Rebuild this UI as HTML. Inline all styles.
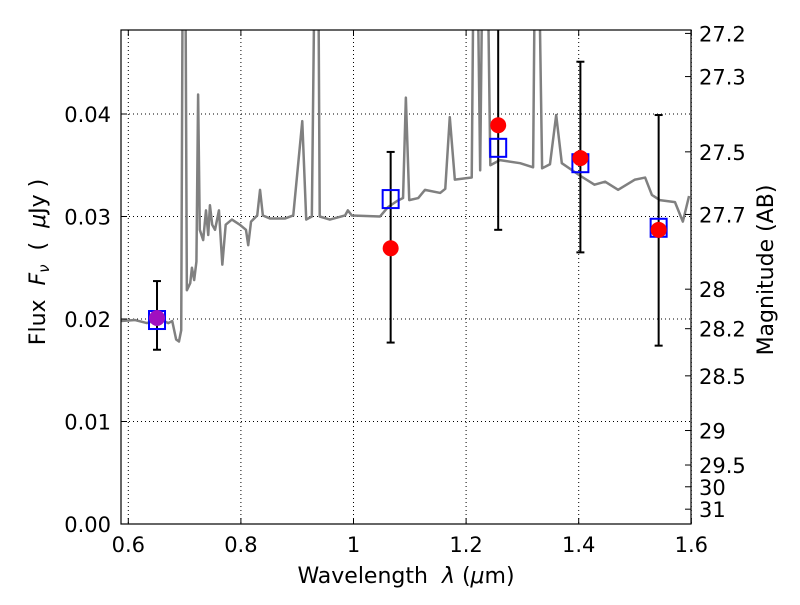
<!DOCTYPE html>
<html><head><meta charset="utf-8"><style>
body{margin:0;background:#fff;width:800px;height:600px;overflow:hidden}
svg text{font-family:"DejaVu Sans","Liberation Sans",sans-serif;fill:#000}
</style></head><body>
<svg id="c" width="800" height="600"></svg>
<script>
const specWave=[0.587,0.612,0.633,0.656,0.671,0.678,0.685,0.690,0.694,0.697,0.701,0.704,0.710,0.713,0.717,0.721,0.724,0.727,0.733,0.738,0.742,0.745,0.749,0.754,0.761,0.767,0.773,0.784,0.798,0.809,0.813,0.818,0.829,0.834,0.839,0.852,0.878,0.893,0.909,0.916,0.926,0.932,0.937,0.940,0.958,0.985,0.990,0.997,1.047,1.061,1.077,1.088,1.093,1.099,1.115,1.127,1.154,1.163,1.171,1.180,1.210,1.214,1.219,1.225,1.230,1.237,1.243,1.260,1.296,1.319,1.323,1.328,1.335,1.349,1.360,1.370,1.402,1.428,1.447,1.470,1.500,1.518,1.530,1.544,1.571,1.585,1.596];
const specFlux=[0.0198,0.0199,0.0196,0.0200,0.0196,0.0198,0.0180,0.0178,0.0189,0.06,0.06,0.0228,0.0235,0.0250,0.0238,0.0256,0.0419,0.0287,0.0277,0.0306,0.0282,0.0311,0.0292,0.0287,0.0306,0.0253,0.0292,0.0297,0.0292,0.0287,0.0272,0.0295,0.0301,0.0326,0.0301,0.0298,0.0298,0.0301,0.0393,0.0297,0.0300,0.06,0.06,0.0300,0.0297,0.0301,0.0306,0.0301,0.0300,0.0309,0.0315,0.0318,0.0416,0.0316,0.0318,0.0326,0.0323,0.0327,0.0397,0.0336,0.0338,0.06,0.06,0.0345,0.06,0.06,0.0350,0.0355,0.0352,0.0348,0.06,0.06,0.0347,0.0351,0.0399,0.0352,0.0340,0.0331,0.0334,0.0326,0.0336,0.0338,0.0321,0.0316,0.0314,0.0295,0.0320];
const bandWave=[0.651,1.066,1.257,1.403,1.542];
const modelFlux=[0.0199,0.0317,0.0367,0.0352,0.0289];
const obsFlux=[0.0201,0.0269,0.0389,0.0357,0.0287];
const errLo=[0.0170,0.0177,0.0287,0.0265,0.0174];
const errHi=[0.0237,0.0363,0.0600,0.0451,0.0399];
const xTicks=[0.6,0.8,1,1.2,1.4,1.6];
const xTickLabels=["0.6","0.8","1","1.2","1.4","1.6"];
const yTicks=[0,0.01,0.02,0.03,0.04];
const yTickLabels=["0.00","0.01","0.02","0.03","0.04"];
const magTicks=[27.2,27.3,27.5,27.7,28,28.2,28.5,29,29.5,30,31];

const L=121,R=691,T=30,B=524;
const X=v=>128.3+(v-0.6)*563;
const Y=f=>B-f*10250;
const M=m=>Y(Math.pow(10,(23.9-m)/2.5));
const NS="http://www.w3.org/2000/svg";
const svg=document.getElementById('c');
function mk(tag,at,parent){const e=document.createElementNS(NS,tag);for(const k in at)e.setAttribute(k,at[k]);(parent||svg).appendChild(e);return e;}
const defs=mk('defs',{});const cp=mk('clipPath',{id:'cl'},defs);mk('rect',{x:L,y:T,width:R-L,height:B-T},cp);

const grid=mk('g',{});


xTicks.forEach(v=>{mk('line',{x1:X(v),x2:X(v),y1:T,y2:B,stroke:'#000','stroke-width':1,'stroke-dasharray':'1,3'},grid);});
yTicks.forEach(v=>{mk('line',{x1:L,x2:R,y1:Y(v),y2:Y(v),stroke:'#000','stroke-width':1,'stroke-dasharray':'1,3'},grid);});

const spec=mk('polyline',{points:specWave.map((w,i)=>X(w)+','+Y(specFlux[i])).join(' '),fill:'none',stroke:'#808080','stroke-width':2.5,'stroke-linejoin':'round','clip-path':'url(#cl)'});



bandWave.forEach((w,i)=>{
 const g=mk('g',{'clip-path':'url(#cl)'});
 
 
 const x=X(w);
 mk('line',{x1:x,x2:x,y1:Y(errLo[i]),y2:Y(errHi[i]),stroke:'#000','stroke-width':2},g);
 mk('line',{x1:x-4,x2:x+4,y1:Y(errLo[i]),y2:Y(errLo[i]),stroke:'#000','stroke-width':2},g);
 mk('line',{x1:x-4,x2:x+4,y1:Y(errHi[i]),y2:Y(errHi[i]),stroke:'#000','stroke-width':2},g);
});
bandWave.forEach((w,i)=>{
 const s=mk('rect',{x:X(w)-8,y:Y(modelFlux[i])-9,width:16,height:18,fill:'none',stroke:'#0000ff','stroke-width':2});
 
 
});
bandWave.forEach((w,i)=>{
 const c=mk('circle',{cx:X(w),cy:Y(obsFlux[i]),r:8,fill:i===0?'#a010c0':'#ff0000'});
 
 
});

const frame=mk('rect',{x:L,y:T,width:R-L,height:B-T,fill:'none',stroke:'#000','stroke-width':1.2});



xTicks.forEach((v,i)=>{
 mk('line',{x1:X(v),x2:X(v),y1:B,y2:B-6,stroke:'#000'});mk('line',{x1:X(v),x2:X(v),y1:T,y2:T+6,stroke:'#000'});
 const t=mk('text',{x:X(v),y:B+28,'font-size':21,'text-anchor':'middle'});t.textContent=xTickLabels[i];
 
 
});
yTicks.forEach((v,i)=>{
 mk('line',{x1:L,x2:L+6,y1:Y(v),y2:Y(v),stroke:'#000'});
 const t=mk('text',{x:L-10,y:Y(v)+8,'font-size':21,'text-anchor':'end'});t.textContent=yTickLabels[i];
 
 
});
magTicks.forEach(m=>{
 const y=M(m);
 mk('line',{x1:R,x2:R-6,y1:y,y2:y,stroke:'#000'});
 const t=mk('text',{x:R+8,y:y+8,'font-size':21});t.textContent=String(m);
 
 
});
</script>
<svg width="800" height="600" style="position:absolute;left:0;top:0">
<text x="406" y="583" font-size="22" text-anchor="middle" xml:space="preserve">Wavelength  <tspan font-style="italic">λ</tspan> (<tspan font-style="italic">μ</tspan>m)</text>
<text transform="translate(45,262) rotate(-90)" font-size="22" text-anchor="middle" xml:space="preserve">Flux  <tspan font-style="italic">F</tspan><tspan font-style="italic" font-size="15" dy="4">ν</tspan><tspan dy="-4">  (  </tspan><tspan font-style="italic">μ</tspan>Jy )</text>
<text transform="translate(773,270) rotate(-90)" font-size="22" text-anchor="middle">Magnitude (AB)</text>
</svg>
</body></html>
